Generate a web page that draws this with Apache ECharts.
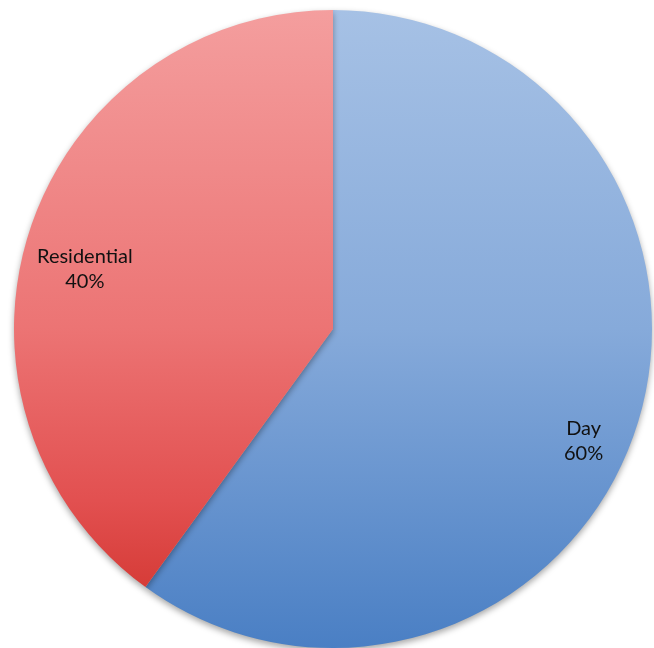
<!DOCTYPE html>
<html>
<head>
<meta charset="utf-8">
<script src="https://cdn.jsdelivr.net/npm/echarts@6/dist/echarts.min.js"></script>
<style>html,body{margin:0;padding:0;background:#fff}#c{width:654px;height:648px}</style>
</head>
<body>
<div id="c"></div>
<script>
const categories = ['Day', 'Residential'];
const values = [60, 40];
const percentLabels = ['60%', '40%'];

const gradients = [
  [[0, '#a6c1e5'], [0.5, '#86aada'], [1, '#4a7fc4']],
  [[0, '#f49e9e'], [0.55, '#ec7474'], [0.85, '#e25050'], [1, '#d63c38']]
];
// label placement (fraction of radius, angle offset in degrees)
const labelPlace = [
  { f: 0.86, dAng: 6 },
  { f: 0.80, dAng: -4.5 }
];

const cx = 333, cy = 329, R = 319;
const total = values.reduce((a, b) => a + b, 0);

const chart = echarts.init(document.getElementById('c'), null, { renderer: 'canvas' });
chart.setOption({
  animation: false,
  series: [{
    type: 'pie',
    center: [cx, cy],
    radius: [0, R],
    startAngle: 90,
    clockwise: true,
    data: categories.map((n, i) => ({
      name: n,
      value: values[i],
      itemStyle: {
        color: {
          type: 'linear', x: 0, y: 0, x2: 0, y2: 1,
          colorStops: gradients[i].map(s => ({ offset: s[0], color: s[1] }))
        }
      }
    })),
    itemStyle: {
      borderWidth: 0,
      shadowBlur: 6,
      shadowOffsetY: 3,
      shadowColor: 'rgba(0,0,0,0.35)'
    },
    label: {
      show: true,
      position: 'inside',
      formatter: p => p.name + '\n' + percentLabels[p.dataIndex],
      color: '#111',
      fontFamily: 'Lato',
      fontSize: 20,
      lineHeight: 25,
      align: 'center'
    },
    labelLine: { show: false },
    labelLayout: function (params) {
      const i = params.dataIndex;
      let before = 0;
      for (let k = 0; k < i; k++) before += values[k];
      const mid = (before + values[i] / 2) / total * 360 + labelPlace[i].dAng;
      const rad = mid * Math.PI / 180;
      const r = R * labelPlace[i].f;
      return {
        x: cx + Math.sin(rad) * r,
        y: cy - Math.cos(rad) * r,
        align: 'center',
        verticalAlign: 'middle'
      };
    }
  }]
});
</script>
</body>
</html>
